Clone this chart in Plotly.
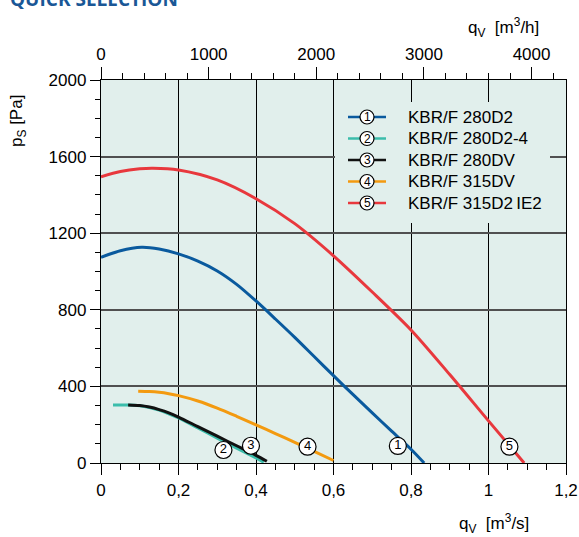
import plotly.graph_objects as go

# ---------------- data ----------------
x_tickvals = [0, 0.2, 0.4, 0.6, 0.8, 1.0, 1.2]
x_ticktext = ["0", "0,2", "0,4", "0,6", "0,8", "1", "1,2"]
x2_tickvals = [0, 1000, 2000, 3000, 4000]
x2_ticktext = ["0", "1000", "2000", "3000", "4000"]
y_tickvals = [0, 400, 800, 1200, 1600, 2000]
y_ticktext = ["0", "400", "800", "1200", "1600", "2000"]

names = ["KBR/F 280D2", "KBR/F 280D2-4", "KBR/F 280DV", "KBR/F 315DV", "KBR/F 315D2\u2009IE2"]
numbers = ["1", "2", "3", "4", "5"]
colors = ["#0a5a9e", "#3bbdab", "#111111", "#f39a10", "#e8383d"]

q1 = [0, 0.05, 0.105, 0.15, 0.2, 0.25, 0.3, 0.35, 0.4, 0.45, 0.5, 0.55, 0.6, 0.65, 0.7, 0.75, 0.8, 0.834]
p1 = [1074, 1108, 1126, 1117, 1092, 1054, 1003, 933, 846, 752, 656, 556, 456, 358, 262, 166, 72, 0]

q2 = [0.031, 0.07, 0.1, 0.125, 0.15, 0.175, 0.2, 0.25, 0.3, 0.35, 0.4, 0.42]
p2 = [303, 303, 299, 290, 276, 257, 235, 183, 130, 78, 26, 4]

q3 = [0.07, 0.1, 0.125, 0.15, 0.175, 0.2, 0.25, 0.3, 0.35, 0.4, 0.428]
p3 = [303, 300, 292, 279, 262, 240, 190, 140, 90, 40, 9]

q4 = [0.096, 0.125, 0.15, 0.175, 0.2, 0.25, 0.3, 0.35, 0.4, 0.45, 0.5, 0.55, 0.6]
p4 = [375, 373, 369, 362, 352, 324, 287, 244, 199, 154, 108, 61, 13]

q5 = [0, 0.05, 0.1, 0.134, 0.2, 0.3, 0.4, 0.5, 0.6, 0.7, 0.8, 0.9, 1.0, 1.092]
p5 = [1495, 1522, 1536, 1539, 1530, 1478, 1380, 1250, 1082, 893, 695, 462, 220, 0]

curves_q = [q1, q2, q3, q4, q5]
curves_p = [p1, p2, p3, p4, p5]

label_q = [0.766, 0.316, 0.387, 0.533, 1.054]
label_p = [89, 68, 90, 85, 85]

M3S_TO_M3H = 3600

# ---------------- layout geometry ----------------
W, H = 579, 537
L, R, T, B = 101, 13, 80, 74
PW, PH = W - L - R, H - T - B
BG = "#e1efec"
FONT = "Liberation Sans, Arial, sans-serif"


def fx(xp):
    return (xp - L) / PW


def fy(yp):
    return (H - B - yp) / PH


fig = go.Figure()

for i in [1, 2, 3, 0, 4]:
    fig.add_trace(go.Scatter(
        x=curves_q[i], y=curves_p[i], mode="lines",
        line=dict(color=colors[i], width=3, shape="spline", smoothing=0.8),
        name=names[i], showlegend=False, hoverinfo="skip"))

fig.add_trace(go.Scatter(
    x=label_q, y=label_p, mode="markers+text", text=numbers,
    textposition="middle center", textfont=dict(family=FONT, size=13, color="black"),
    marker=dict(size=17, color="white", line=dict(color="black", width=1.2)),
    showlegend=False, hoverinfo="skip", cliponaxis=False))

# invisible trace to activate the top axis
fig.add_trace(go.Scatter(x=[0, 1.2 * M3S_TO_M3H], y=[0, 0], xaxis="x2", mode="markers",
                         marker=dict(opacity=0), showlegend=False, hoverinfo="skip"))

axis_common = dict(showline=True, linecolor="black", linewidth=1.3, ticks="outside",
                   tickcolor="black", tickwidth=1.3, zeroline=False, automargin=False,
                   tickfont=dict(family=FONT, size=17, color="black"))

fig.update_layout(
    width=W, height=H, autosize=False,
    margin=dict(l=L, r=R, t=T, b=B, pad=0, autoexpand=False),
    paper_bgcolor="white", plot_bgcolor=BG,
    showlegend=False,
    xaxis=dict(range=[0, 1.2], tickvals=x_tickvals, ticktext=x_ticktext, ticklen=11,
               showgrid=True, gridcolor="black", gridwidth=1,
               minor=dict(dtick=0.05, ticks="outside", ticklen=6, tickcolor="black",
                          tickwidth=1.2, showgrid=False),
               **axis_common),
    xaxis2=dict(range=[0, 1.2 * M3S_TO_M3H], overlaying="x", side="top",
                tickvals=x2_tickvals, ticktext=x2_ticktext, ticklen=12, showgrid=False,
                minor=dict(dtick=200, ticks="outside", ticklen=6, tickcolor="black",
                           tickwidth=1.2, showgrid=False),
                **axis_common),
    yaxis=dict(range=[0, 2000], tickvals=y_tickvals, ticktext=y_ticktext, ticklen=10,
               showgrid=True, gridcolor="#505050", gridwidth=1.5, mirror=True,
               minor=dict(dtick=100, ticks="outside", ticklen=5, tickcolor="black",
                          tickwidth=1.2, showgrid=False),
               **axis_common),
)

shapes = []
annotations = []

# legend box covering grid
shapes.append(dict(type="rect", xref="paper", yref="paper",
                   x0=fx(335), x1=fx(550), y0=fy(223), y1=fy(102),
                   fillcolor=BG, line=dict(width=0), layer="above"))

row_y = [117, 138.5, 160, 181.5, 203]
for i in range(5):
    yy = fy(row_y[i])
    shapes.append(dict(type="line", xref="paper", yref="paper",
                       x0=fx(348), x1=fx(386), y0=yy, y1=yy,
                       line=dict(color=colors[i], width=2.5), layer="above"))
    r = 7
    shapes.append(dict(type="circle", xref="paper", yref="paper",
                       x0=fx(367 - r), x1=fx(367 + r), y0=fy(row_y[i] + r), y1=fy(row_y[i] - r),
                       fillcolor="white", line=dict(color="black", width=1.2), layer="above"))
    annotations.append(dict(xref="paper", yref="paper", x=fx(367), y=yy,
                            text=numbers[i], showarrow=False, xanchor="center", yanchor="middle",
                            font=dict(family=FONT, size=12, color="black")))
    annotations.append(dict(xref="paper", yref="paper", x=fx(406), y=yy,
                            text=names[i], showarrow=False, xanchor="left", yanchor="middle",
                            font=dict(family=FONT, size=17, color="black")))

# axis titles
annotations.append(dict(xref="paper", yref="paper", x=fx(466), y=fy(28),
                        text="q<sub>V</sub>  [m<sup>3</sup>/h]", showarrow=False,
                        xanchor="left", yanchor="middle",
                        font=dict(family=FONT, size=17, color="black")))
annotations.append(dict(xref="paper", yref="paper", x=fx(457), y=fy(523),
                        text="q<sub>V</sub>  [m<sup>3</sup>/s]", showarrow=False,
                        xanchor="left", yanchor="middle",
                        font=dict(family=FONT, size=17, color="black")))
annotations.append(dict(xref="paper", yref="paper", x=fx(18), y=fy(121),
                        text="p<sub>S</sub> [Pa]", showarrow=False, textangle=-90,
                        xanchor="center", yanchor="middle",
                        font=dict(family=FONT, size=17, color="black")))
# cut-off header
annotations.append(dict(xref="paper", yref="paper", x=fx(8), y=fy(-1),
                        text="<b>QUICK SELECTION</b>", showarrow=False,
                        xanchor="left", yanchor="middle",
                        font=dict(family="Open Sans, sans-serif", size=19, color="#1a5796")))

fig.update_layout(shapes=shapes, annotations=annotations)

fig.write_html("out.html", config={"displayModeBar": False},
               post_script="document.body.style.margin='0';document.body.style.overflow='hidden';")
